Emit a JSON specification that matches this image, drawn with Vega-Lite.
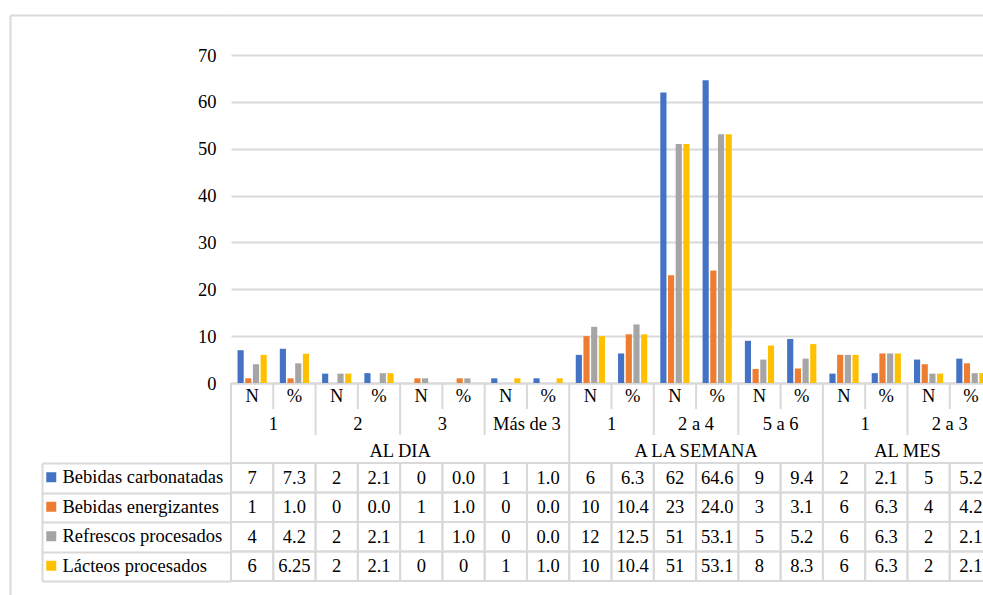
{
  "$schema": "https://vega.github.io/schema/vega-lite/v6.json",
  "padding": {"left": 10, "top": 15, "right": 0, "bottom": 0},
  "spacing": 0,
  "bounds": "flush",
  "background": "white",
  "datasets": {
    "cols": [
      {"c": "c01", "grp": "AL DIA", "sub": "1", "stat": "N"},
      {"c": "c02", "grp": "AL DIA", "sub": "1", "stat": "%"},
      {"c": "c03", "grp": "AL DIA", "sub": "2", "stat": "N"},
      {"c": "c04", "grp": "AL DIA", "sub": "2", "stat": "%"},
      {"c": "c05", "grp": "AL DIA", "sub": "3", "stat": "N"},
      {"c": "c06", "grp": "AL DIA", "sub": "3", "stat": "%"},
      {"c": "c07", "grp": "AL DIA", "sub": "Más de 3", "stat": "N"},
      {"c": "c08", "grp": "AL DIA", "sub": "Más de 3", "stat": "%"},
      {"c": "c09", "grp": "A LA SEMANA", "sub": "1", "stat": "N"},
      {"c": "c10", "grp": "A LA SEMANA", "sub": "1", "stat": "%"},
      {"c": "c11", "grp": "A LA SEMANA", "sub": "2 a 4", "stat": "N"},
      {"c": "c12", "grp": "A LA SEMANA", "sub": "2 a 4", "stat": "%"},
      {"c": "c13", "grp": "A LA SEMANA", "sub": "5 a 6", "stat": "N"},
      {"c": "c14", "grp": "A LA SEMANA", "sub": "5 a 6", "stat": "%"},
      {"c": "c15", "grp": "AL MES", "sub": "1", "stat": "N"},
      {"c": "c16", "grp": "AL MES", "sub": "1", "stat": "%"},
      {"c": "c17", "grp": "AL MES", "sub": "2 a 3", "stat": "N"},
      {"c": "c18", "grp": "AL MES", "sub": "2 a 3", "stat": "%"}
    ],
    "vals": [
      {"c": "c01", "s": "Bebidas carbonatadas", "v": 7, "t": "7"},
      {"c": "c02", "s": "Bebidas carbonatadas", "v": 7.3, "t": "7.3"},
      {"c": "c03", "s": "Bebidas carbonatadas", "v": 2, "t": "2"},
      {"c": "c04", "s": "Bebidas carbonatadas", "v": 2.1, "t": "2.1"},
      {"c": "c05", "s": "Bebidas carbonatadas", "v": 0, "t": "0"},
      {"c": "c06", "s": "Bebidas carbonatadas", "v": 0, "t": "0.0"},
      {"c": "c07", "s": "Bebidas carbonatadas", "v": 1, "t": "1"},
      {"c": "c08", "s": "Bebidas carbonatadas", "v": 1, "t": "1.0"},
      {"c": "c09", "s": "Bebidas carbonatadas", "v": 6, "t": "6"},
      {"c": "c10", "s": "Bebidas carbonatadas", "v": 6.3, "t": "6.3"},
      {"c": "c11", "s": "Bebidas carbonatadas", "v": 62, "t": "62"},
      {"c": "c12", "s": "Bebidas carbonatadas", "v": 64.6, "t": "64.6"},
      {"c": "c13", "s": "Bebidas carbonatadas", "v": 9, "t": "9"},
      {"c": "c14", "s": "Bebidas carbonatadas", "v": 9.4, "t": "9.4"},
      {"c": "c15", "s": "Bebidas carbonatadas", "v": 2, "t": "2"},
      {"c": "c16", "s": "Bebidas carbonatadas", "v": 2.1, "t": "2.1"},
      {"c": "c17", "s": "Bebidas carbonatadas", "v": 5, "t": "5"},
      {"c": "c18", "s": "Bebidas carbonatadas", "v": 5.2, "t": "5.2"},
      {"c": "c01", "s": "Bebidas energizantes", "v": 1, "t": "1"},
      {"c": "c02", "s": "Bebidas energizantes", "v": 1, "t": "1.0"},
      {"c": "c03", "s": "Bebidas energizantes", "v": 0, "t": "0"},
      {"c": "c04", "s": "Bebidas energizantes", "v": 0, "t": "0.0"},
      {"c": "c05", "s": "Bebidas energizantes", "v": 1, "t": "1"},
      {"c": "c06", "s": "Bebidas energizantes", "v": 1, "t": "1.0"},
      {"c": "c07", "s": "Bebidas energizantes", "v": 0, "t": "0"},
      {"c": "c08", "s": "Bebidas energizantes", "v": 0, "t": "0.0"},
      {"c": "c09", "s": "Bebidas energizantes", "v": 10, "t": "10"},
      {"c": "c10", "s": "Bebidas energizantes", "v": 10.4, "t": "10.4"},
      {"c": "c11", "s": "Bebidas energizantes", "v": 23, "t": "23"},
      {"c": "c12", "s": "Bebidas energizantes", "v": 24, "t": "24.0"},
      {"c": "c13", "s": "Bebidas energizantes", "v": 3, "t": "3"},
      {"c": "c14", "s": "Bebidas energizantes", "v": 3.1, "t": "3.1"},
      {"c": "c15", "s": "Bebidas energizantes", "v": 6, "t": "6"},
      {"c": "c16", "s": "Bebidas energizantes", "v": 6.3, "t": "6.3"},
      {"c": "c17", "s": "Bebidas energizantes", "v": 4, "t": "4"},
      {"c": "c18", "s": "Bebidas energizantes", "v": 4.2, "t": "4.2"},
      {"c": "c01", "s": "Refrescos procesados", "v": 4, "t": "4"},
      {"c": "c02", "s": "Refrescos procesados", "v": 4.2, "t": "4.2"},
      {"c": "c03", "s": "Refrescos procesados", "v": 2, "t": "2"},
      {"c": "c04", "s": "Refrescos procesados", "v": 2.1, "t": "2.1"},
      {"c": "c05", "s": "Refrescos procesados", "v": 1, "t": "1"},
      {"c": "c06", "s": "Refrescos procesados", "v": 1, "t": "1.0"},
      {"c": "c07", "s": "Refrescos procesados", "v": 0, "t": "0"},
      {"c": "c08", "s": "Refrescos procesados", "v": 0, "t": "0.0"},
      {"c": "c09", "s": "Refrescos procesados", "v": 12, "t": "12"},
      {"c": "c10", "s": "Refrescos procesados", "v": 12.5, "t": "12.5"},
      {"c": "c11", "s": "Refrescos procesados", "v": 51, "t": "51"},
      {"c": "c12", "s": "Refrescos procesados", "v": 53.1, "t": "53.1"},
      {"c": "c13", "s": "Refrescos procesados", "v": 5, "t": "5"},
      {"c": "c14", "s": "Refrescos procesados", "v": 5.2, "t": "5.2"},
      {"c": "c15", "s": "Refrescos procesados", "v": 6, "t": "6"},
      {"c": "c16", "s": "Refrescos procesados", "v": 6.3, "t": "6.3"},
      {"c": "c17", "s": "Refrescos procesados", "v": 2, "t": "2"},
      {"c": "c18", "s": "Refrescos procesados", "v": 2.1, "t": "2.1"},
      {"c": "c01", "s": "Lácteos procesados", "v": 6, "t": "6"},
      {"c": "c02", "s": "Lácteos procesados", "v": 6.25, "t": "6.25"},
      {"c": "c03", "s": "Lácteos procesados", "v": 2, "t": "2"},
      {"c": "c04", "s": "Lácteos procesados", "v": 2.1, "t": "2.1"},
      {"c": "c05", "s": "Lácteos procesados", "v": 0, "t": "0"},
      {"c": "c06", "s": "Lácteos procesados", "v": 0, "t": "0"},
      {"c": "c07", "s": "Lácteos procesados", "v": 1, "t": "1"},
      {"c": "c08", "s": "Lácteos procesados", "v": 1, "t": "1.0"},
      {"c": "c09", "s": "Lácteos procesados", "v": 10, "t": "10"},
      {"c": "c10", "s": "Lácteos procesados", "v": 10.4, "t": "10.4"},
      {"c": "c11", "s": "Lácteos procesados", "v": 51, "t": "51"},
      {"c": "c12", "s": "Lácteos procesados", "v": 53.1, "t": "53.1"},
      {"c": "c13", "s": "Lácteos procesados", "v": 8, "t": "8"},
      {"c": "c14", "s": "Lácteos procesados", "v": 8.3, "t": "8.3"},
      {"c": "c15", "s": "Lácteos procesados", "v": 6, "t": "6"},
      {"c": "c16", "s": "Lácteos procesados", "v": 6.3, "t": "6.3"},
      {"c": "c17", "s": "Lácteos procesados", "v": 2, "t": "2"},
      {"c": "c18", "s": "Lácteos procesados", "v": 2.1, "t": "2.1"}
    ]
  },
  "config": {
    "view": {"stroke": null},
    "scale": {"bandPaddingInner": 0, "bandPaddingOuter": 0, "barBandPaddingInner": 0, "rectBandPaddingInner": 0, "bandWithNestedOffsetPaddingInner": 0, "bandWithNestedOffsetPaddingOuter": 0},
    "font": "Liberation Serif, Times New Roman, serif",
    "text": {"font": "Liberation Serif, Times New Roman, serif", "fontSize": 18.5, "color": "#000000"},
    "axis": {"labelFont": "Liberation Serif, Times New Roman, serif", "labelFontSize": 18.5, "labelColor": "#000000"},
    "legend": {"labelFont": "Liberation Serif, Times New Roman, serif", "labelFontSize": 18.5, "labelColor": "#000000"}
  },
  "hconcat": [
    {
      "width": 221,
      "height": 581,
      "data": {"name": "cols"},
      "mark": {"type": "point", "opacity": 0},
      "encoding": {
        "x": {"field": "c", "type": "nominal", "axis": {"orient": "top", "title": null, "labels": false, "ticks": false, "grid": false, "domainColor": "#d9d9d9", "domainWidth": 2}},
        "y": {"field": "stat", "type": "nominal", "axis": {"title": null, "labels": false, "ticks": false, "grid": false, "domainColor": "#d9d9d9", "domainWidth": 2}}
      }
    },
    {
      "spacing": 0,
      "bounds": "flush",
      "resolve": {"scale": {"x": "shared", "color": "independent"}, "legend": {"color": "independent"}},
      "vconcat": [
        {
          "width": 761,
          "height": 40,
          "data": {"name": "cols"},
          "mark": {"type": "point", "opacity": 0},
          "encoding": {
            "x": {"field": "c", "type": "nominal", "axis": {"orient": "top", "title": null, "labels": false, "ticks": false, "grid": false, "domainColor": "#d9d9d9", "domainWidth": 2}}
          }
        },
        {
          "width": 761,
          "height": 328,
          "data": {"name": "vals"},
          "mark": {"type": "bar"},
          "encoding": {
            "x": {"field": "c", "type": "nominal", "axis": {"title": null, "labels": false, "ticks": false, "grid": false, "domain": true, "domainColor": "#d9d9d9", "domainWidth": 2}},
            "xOffset": {"field": "s", "type": "nominal", "sort": ["Bebidas carbonatadas", "Bebidas energizantes", "Refrescos procesados", "Lácteos procesados"], "scale": {"paddingInner": 0.2, "paddingOuter": 0.85}},
            "y": {"field": "v", "type": "quantitative", "scale": {"domain": [0, 70], "nice": false}, "axis": {"title": null, "values": [0, 10, 20, 30, 40, 50, 60, 70], "domain": false, "ticks": false, "tickSize": 0, "labelPadding": 15, "gridColor": "#d9d9d9", "gridWidth": 2}},
            "color": {"field": "s", "type": "nominal", "scale": {"domain": ["Bebidas carbonatadas", "Bebidas energizantes", "Refrescos procesados", "Lácteos procesados"], "range": ["#4472C4", "#ED7D31", "#A5A5A5", "#FFC000"]}, "legend": null}
          }
        },
        {
          "width": 761,
          "height": 26,
          "data": {"name": "cols"},
          "layer": [
            {"mark": {"type": "rule", "color": "#d9d9d9", "strokeWidth": 2}, "encoding": {"x": {"field": "c", "type": "nominal", "bandPosition": 0, "axis": null}}},
            {"mark": {"type": "text"}, "encoding": {"x": {"field": "c", "type": "nominal", "axis": null}, "text": {"field": "stat"}}}
          ]
        },
        {
          "width": 761,
          "height": 26,
          "data": {"name": "cols"},
          "transform": [{"filter": {"field": "stat", "equal": "N"}}],
          "layer": [
            {"mark": {"type": "rule", "color": "#d9d9d9", "strokeWidth": 2}, "encoding": {"x": {"field": "c", "type": "nominal", "bandPosition": 0, "axis": null}}},
            {"mark": {"type": "text", "dy": 1.5}, "encoding": {"x": {"field": "c", "type": "nominal", "bandPosition": 1, "axis": null}, "text": {"field": "sub"}}}
          ]
        },
        {
          "width": 761,
          "height": 27.7,
          "data": {"name": "cols"},
          "layer": [
            {"transform": [{"filter": {"field": "c", "oneOf": ["c01", "c09", "c15"]}}], "mark": {"type": "rule", "color": "#d9d9d9", "strokeWidth": 2}, "encoding": {"x": {"field": "c", "type": "nominal", "bandPosition": 0, "axis": null}}},
            {"transform": [{"filter": {"field": "c", "oneOf": ["c04", "c11", "c16"]}}], "mark": {"type": "text", "dy": 2}, "encoding": {"x": {"field": "c", "type": "nominal", "bandPosition": 1, "axis": null}, "text": {"field": "grp"}}}
          ]
        },
        {
          "width": 761,
          "height": 118,
          "data": {"name": "vals"},
          "encoding": {
            "x": {"field": "c", "type": "nominal", "axis": null},
            "y": {"field": "s", "type": "nominal", "sort": ["Bebidas carbonatadas", "Bebidas energizantes", "Refrescos procesados", "Lácteos procesados"], "axis": {"title": null, "orient": "left", "offset": 189, "labels": false, "domainColor": "#d9d9d9", "domainWidth": 2, "tickColor": "#d9d9d9", "tickWidth": 2, "tickSize": -189, "tickBand": "extent", "grid": false}}
          },
          "layer": [
            {"mark": {"type": "rect", "fill": "#ffffff", "fillOpacity": 0, "stroke": "#d9d9d9", "strokeWidth": 2}},
            {"mark": {"type": "text"}, "encoding": {"text": {"field": "t"}}},
            {"mark": {"type": "square", "filled": true, "opacity": 0}, "encoding": {"color": {"field": "s", "type": "nominal", "scale": {"domain": ["Bebidas carbonatadas", "Bebidas energizantes", "Refrescos procesados", "Lácteos procesados"], "range": ["#4472C4", "#ED7D31", "#A5A5A5", "#FFC000"]}, "legend": {"orient": "none", "legendX": -189, "legendY": 5, "title": null, "symbolType": "square", "symbolSize": 100, "symbolOpacity": 1, "symbolStrokeWidth": 0, "labelFont": "Liberation Serif, Times New Roman, serif", "labelFontSize": 18.5, "labelColor": "#000000", "labelLimit": 300, "labelOffset": 2, "rowPadding": 10.5, "padding": 0}}}}
          ]
        }
      ]
    }
  ]
}
